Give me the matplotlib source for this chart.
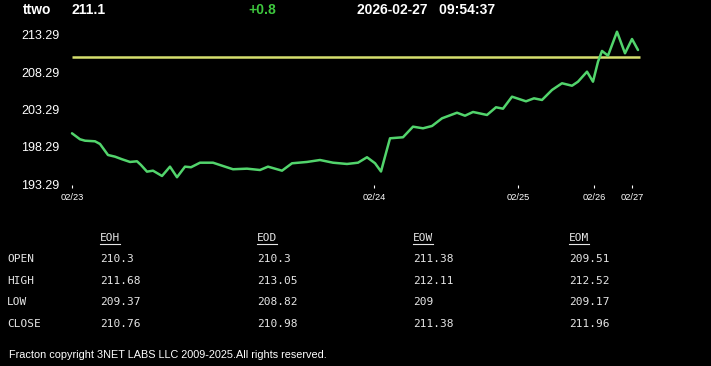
import matplotlib
matplotlib.use('Agg')
import matplotlib.pyplot as plt
from matplotlib.lines import Line2D

# ---- data ----
symbol = 'ttwo'
last_price = '211.1'
change = '+0.8'
stamp = '2026-02-27   09:54:37'

# sample positions (bar index along the x axis) and prices
pos = [0, 8, 13, 23, 28, 36, 43, 50, 58, 65, 69, 75, 81, 90, 98, 105, 113,
       119, 128, 141, 148, 161, 175, 188, 196, 210, 220, 235, 248, 261, 275,
       286, 295, 303, 309, 313, 318, 331, 341, 351, 360, 370, 385, 393, 401,
       415, 424, 431, 440, 454, 462, 470, 480, 490, 500, 506, 515, 521, 526,
       530, 536, 545, 553, 560, 566]
price = [200.11, 199.31, 199.12, 199.04, 198.68, 197.20, 196.98, 196.63,
         196.27, 196.36, 195.86, 194.97, 195.10, 194.39, 195.64, 194.22,
         195.64, 195.56, 196.17, 196.17, 195.86, 195.29, 195.37, 195.19,
         195.64, 195.10, 196.09, 196.27, 196.53, 196.17, 196.00, 196.17,
         196.90, 196.10, 194.99, 196.98, 199.44, 199.58, 201.00, 200.78,
         201.09, 202.12, 202.87, 202.47, 202.97, 202.57, 203.60, 203.41,
         205.02, 204.40, 204.80, 204.58, 205.92, 206.82, 206.49, 207.03,
         208.37, 207.03, 209.71, 211.15, 210.52, 213.73, 210.84, 212.75,
         211.28]
ref_level = 210.3

day_pos = [0, 302, 446, 522, 560]
day_labels = ['02/23', '02/24', '02/25', '02/26', '02/27']
y_ticks = [193.29, 198.29, 203.29, 208.29, 213.29]

row_names = ['OPEN', 'HIGH', 'LOW', 'CLOSE']
col_names = ['EOH', 'EOD', 'EOW', 'EOM']
eoh = ['210.3', '211.68', '209.37', '210.76']
eod = ['210.3', '213.05', '208.82', '210.98']
eow = ['211.38', '212.11', '209', '211.38']
eom = ['209.51', '212.52', '209.17', '211.96']

footer = 'Fracton copyright 3NET LABS LLC 2009-2025.All rights reserved.'

W, H = 711, 366
fig = plt.figure(figsize=(W / 100, H / 100), dpi=100, facecolor='black')

def fx(px):
    return px / W

def fy(py):
    return 1 - py / H

# ── header ─────────────────────────────────────────
hdr = dict(fontsize=10, fontweight='bold', family='Liberation Sans', va='center')
fig.text(fx(23), fy(10), symbol, color='white', **hdr)
fig.text(fx(71), fy(10), last_price, color='white', **hdr)
fig.text(fx(248), fy(10), change, color='#3ec83e', **hdr)
fig.text(fx(357), fy(10), stamp, color='white', **hdr)

# ── price chart ────────────────────────────────────
ax = fig.add_axes([fx(65), fy(185), fx(645) - fx(65), fy(25) - fy(185)])
ax.set_facecolor('black')
ax.hlines(ref_level, pos[0], pos[-1] + 2, color='#d6df6e', lw=1.8)
ax.plot(pos, price, color='#52d46c', lw=1.8, solid_joinstyle='round',
        solid_capstyle='round')
ax.set_xlim(-7, 573)
ax.set_ylim(193.18, 214.63)
for s in ax.spines.values():
    s.set_visible(False)
ax.set_yticks(y_ticks)
ax.set_yticklabels([f'{v:.2f}' for v in y_ticks])
ax.set_xticks(day_pos)
ax.set_xticklabels(day_labels)
ax.tick_params(axis='y', length=0, pad=4, labelcolor='white', labelsize=9)
ax.tick_params(axis='x', length=2.4, width=0.8, color='white', pad=3,
               labelcolor='white', labelsize=6.7)
for t in ax.get_xticklabels() + ax.get_yticklabels():
    t.set_family('Liberation Sans')

# ── OHLC table ─────────────────────────────────────
mono = dict(family='DejaVu Sans Mono', fontsize=8, color='#e6e6e6', va='center')
col_x = [100, 257, 413, 569]
row_y = [259, 281, 302, 324]
for cx, name in zip(col_x, col_names):
    fig.text(fx(cx), fy(238), name, **mono)
    fig.add_artist(Line2D([fx(cx), fx(cx + 20)], [fy(243.5), fy(243.5)],
                          color='#e6e6e6', lw=0.8))
for ry, name in zip(row_y, row_names):
    fig.text(fx(7), fy(ry), name, **mono)
for cx, col in zip(col_x, [eoh, eod, eow, eom]):
    for ry, val in zip(row_y, col):
        fig.text(fx(cx), fy(ry), val, **mono)

fig.text(fx(9), fy(355), footer, color='white', fontsize=7.8,
         family='Liberation Sans', va='center')

fig.savefig('out.png', dpi=100, facecolor='black')
